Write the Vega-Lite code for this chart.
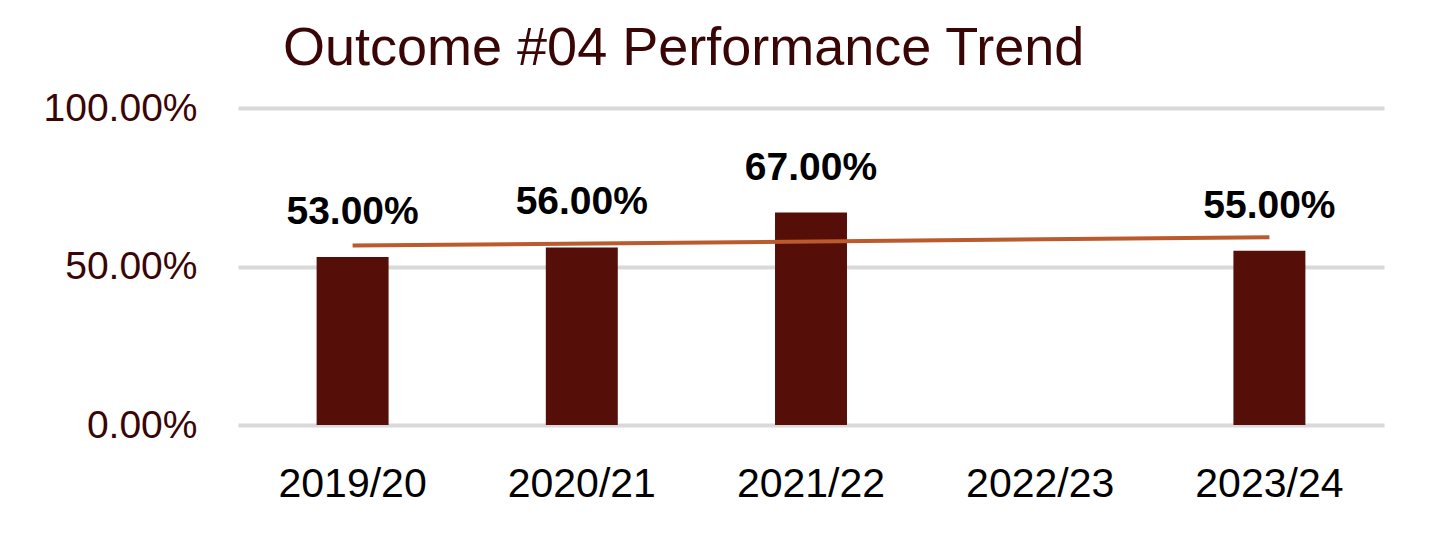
{
  "$schema": "https://vega.github.io/schema/vega-lite/v6.json",
  "autosize": "none",
  "width": 1146,
  "height": 317,
  "padding": {"left": 238, "top": 108, "right": 50, "bottom": 111},
  "background": "white",
  "config": {
    "font": "Liberation Sans",
    "view": {"stroke": null}
  },
  "title": {
    "text": "Outcome #04 Performance Trend",
    "anchor": "start",
    "frame": "group",
    "dx": 45,
    "offset": 13,
    "fontSize": 54,
    "fontWeight": "normal",
    "color": "#3A0505",
    "font": "Liberation Sans"
  },
  "data": {
    "values": [
      {"year": "2019/20", "value": 0.53, "trend": 0.566},
      {"year": "2020/21", "value": 0.56, "trend": 0.573},
      {"year": "2021/22", "value": 0.67, "trend": 0.579},
      {"year": "2022/23", "value": null, "trend": 0.586},
      {"year": "2023/24", "value": 0.55, "trend": 0.592}
    ]
  },
  "encoding": {
    "x": {
      "field": "year",
      "type": "nominal",
      "sort": null,
      "title": null,
      "scale": {
        "domain": ["2019/20", "2020/21", "2021/22", "2022/23", "2023/24"],
        "paddingInner": 0.686,
        "paddingOuter": 0.343
      },
      "axis": {
        "labelAngle": 0,
        "labelFontSize": 41,
        "labelColor": "#000000",
        "labelPadding": 39,
        "ticks": false,
        "domain": false,
        "grid": false
      }
    },
    "y": {
      "type": "quantitative",
      "title": null,
      "scale": {"domain": [0, 1]}
    }
  },
  "layer": [
    {
      "mark": {"type": "bar", "color": "#560E08"},
      "encoding": {
        "y": {
          "field": "value",
          "type": "quantitative",
          "title": null,
          "scale": {"domain": [0, 1]},
          "axis": {
            "values": [0, 0.5, 1],
            "format": ".2%",
            "labelFontSize": 39,
            "labelColor": "#3A0505",
            "labelPadding": 41,
            "ticks": false,
            "domain": false,
            "gridColor": "#D9D9D9",
            "gridWidth": 4
          }
        }
      }
    },
    {
      "mark": {"type": "text", "baseline": "alphabetic", "dy": -33, "fontSize": 39, "fontWeight": "bold", "color": "#000000"},
      "encoding": {
        "y": {"field": "value", "type": "quantitative"},
        "text": {"field": "value", "type": "quantitative", "format": ".2%"}
      }
    },
    {
      "mark": {"type": "line", "color": "#BA5A2D", "strokeWidth": 4},
      "transform": [{"filter": "datum.year == '2019/20' || datum.year == '2023/24'"}],
      "encoding": {
        "y": {"field": "trend", "type": "quantitative"}
      }
    }
  ]
}
